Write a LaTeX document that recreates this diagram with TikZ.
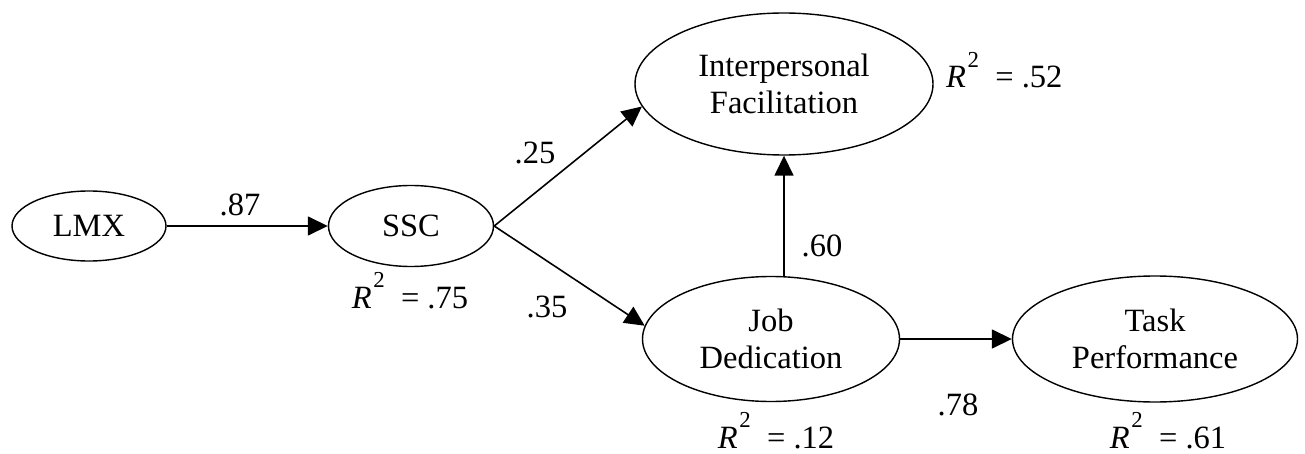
\documentclass[tikz,border=0pt]{standalone}
\usepackage{fontspec}
\setmainfont{Liberation Serif}
\usetikzlibrary{shapes.geometric, arrows.meta, positioning, calc}
\newcommand{\rsq}[1]{\textit{R}\hspace{0.05em}\raisebox{1.35ex}{\fontsize{13}{14}\selectfont 2}\hspace{0.5em}= #1}

\begin{document}
\begin{tikzpicture}[
    latent/.style={ellipse,draw,line width=0.8pt,inner sep=0pt,align=center,font=\fontsize{18.5}{21}\selectfont},
    effect/.style={-{Triangle[length=0.4cm,width=0.38cm]},line width=0.9pt},
    coef/.style={font=\fontsize{18.5}{21}\selectfont}]
    \useasboundingbox (0,0) rectangle (26.1,9.06);

    % latent variables
    \node[latent,minimum width=3.08cm,minimum height=1.40cm] (lmx) at (1.78,4.54) {LMX};
    \node[latent,minimum width=3.30cm,minimum height=1.62cm] (ssc) at (8.22,4.54) {SSC};
    \node[latent,minimum width=5.96cm,minimum height=2.84cm] (ifac) at (15.68,7.38) {Interpersonal\\Facilitation};
    \node[latent,minimum width=5.14cm,minimum height=2.50cm] (jd) at (15.42,2.28) {Job\\Dedication};
    \node[latent,minimum width=5.70cm,minimum height=2.52cm] (tp) at (23.10,2.28) {Task\\Performance};

    % paths
    \draw[effect] (lmx) -- (ssc);
    \draw[effect] (ssc.east) -- (ifac.189);
    \draw[effect] (ssc.east) -- (jd.174);
    \draw[effect] (jd.north -| ifac.south) -- (ifac.south);
    \draw[effect] (jd) -- (tp);

    % coefficients
    \node[coef] (c87) at (4.80,4.96) {.87};
    \node[coef] (c25) at (10.70,6.00) {.25};
    \node[coef] (c35) at (10.94,2.92) {.35};
    \node[coef] (c60) at (16.44,4.14) {.60};
    \node[coef] (c78) at (19.16,0.96) {.78};

    % explained variance
    \node[coef,anchor=base] (rssc) at (8.20,2.90) {\rsq{.75}};
    \node[coef,anchor=base west] (rifac) at (18.80,7.30) {\rsq{.52}};
    \node[coef,anchor=base] (rjd) at (15.52,0.10) {\rsq{.12}};
    \node[coef,anchor=base] (rtp) at (23.36,0.10) {\rsq{.61}};
\end{tikzpicture}
\end{document}
